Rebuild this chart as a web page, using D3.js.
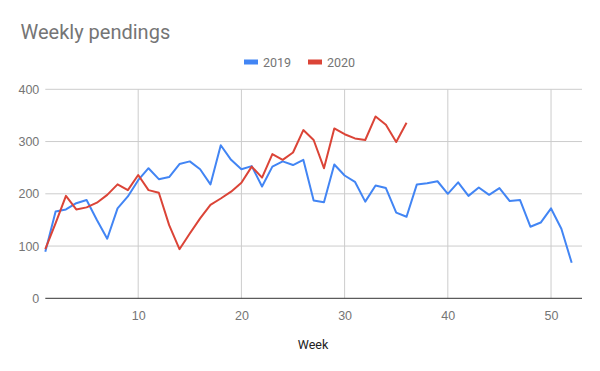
<!DOCTYPE html>
<html>
<head>
<meta charset="utf-8">
<script src="https://cdn.jsdelivr.net/npm/d3@7"></script>
<style>
  body { margin: 0; background: #fff; }
  svg { display: block; font-family: Roboto, Arial, sans-serif; }
</style>
</head>
<body>
<svg id="chart" width="600" height="371"></svg>
<script>
// data
const weeks2019 = d3.range(1, 53);
const values2019 = [89, 166, 170, 182, 188, 150, 114, 172, 195, 226,
                    249, 228, 232, 257, 262, 247, 218, 293, 265, 247,
                    253, 214, 252, 262, 255, 265, 187, 184, 256, 235,
                    223, 185, 216, 211, 164, 156, 218, 220, 224, 200,
                    222, 196, 212, 198, 211, 186, 188, 137, 145, 172,
                    133, 68];
const weeks2020 = d3.range(1, 37);
const values2020 = [94, 144, 196, 170, 174, 183, 198, 218, 207, 236,
                    207, 202, 140, 94, 124, 153, 179, 191, 204, 221,
                    252, 231, 276, 265, 279, 322, 303, 249, 325, 314,
                    306, 303, 348, 332, 299, 336];
const seriesNames = ['2019', '2020'];
const seriesColors = ['#4285f4', '#db4437'];
const xTicks = [10, 20, 30, 40, 50];
const yTicks = [0, 100, 200, 300, 400];

const svg = d3.select('#chart');
const plotLeft = 45.3, plotRight = 582, plotTop = 89.3, plotBottom = 298.3;

const x = d3.scaleLinear().domain([1, 53]).range([plotLeft, plotRight]);
const y = d3.scaleLinear().domain([0, 400]).range([plotBottom, plotTop]);

//title
svg.append('text')
  .attr('x', 20.5)
  .attr('y', 38.5)
  .attr('fill', '#757575')
  .style('font-size', '20px')
  .text('Weekly pendings');

//gridlines
const grid = svg.append('g');
grid.selectAll('.hgrid')
  .data(yTicks.filter(d => d > 0))
  .join('line')
    .attr('x1', plotLeft).attr('x2', plotRight)
    .attr('y1', d => y(d)).attr('y2', d => y(d))
    .attr('stroke', '#cccccc').attr('stroke-width', 1);
grid.selectAll('.vgrid')
  .data(xTicks)
  .join('line')
    .attr('x1', d => x(d)).attr('x2', d => x(d))
    .attr('y1', plotTop).attr('y2', plotBottom)
    .attr('stroke', '#cccccc').attr('stroke-width', 1);

//axes
const yAxis = d3.axisLeft(y).tickValues(yTicks).tickSize(0).tickPadding(6);
svg.append('g')
  .attr('transform', 'translate(' + plotLeft + ',0)')
  .call(yAxis)
  .call(g => g.select('.domain').remove())
  .call(g => g.selectAll('text').attr('fill', '#757575').style('font-size', '12.5px').attr('x', -6));

const xAxis = d3.axisBottom(x).tickValues(xTicks).tickSize(0).tickPadding(13);
svg.append('g')
  .attr('transform', 'translate(0,' + plotBottom + ')')
  .call(xAxis)
  .call(g => g.select('.domain').remove())
  .call(g => g.selectAll('text').attr('fill', '#757575').style('font-size', '12.5px'));

svg.append('line')
  .attr('x1', plotLeft).attr('x2', plotRight)
  .attr('y1', y(0)).attr('y2', y(0))
  .attr('stroke', '#333333').attr('stroke-width', 1);

svg.append('text')
  .attr('x', 313)
  .attr('y', 349)
  .attr('text-anchor', 'middle')
  .attr('fill', '#222222')
  .style('font-size', '12.5px')
  .text('Week');

//lines
const line = d3.line()
  .x(d => x(d[0]))
  .y(d => y(d[1]));

const series = [
  d3.zip(weeks2019, values2019),
  d3.zip(weeks2020, values2020)
];

series.forEach((s, i) => {
  svg.append('path')
    .datum(s)
    .attr('fill', 'none')
    .attr('stroke', seriesColors[i])
    .attr('stroke-width', 2)
    .attr('stroke-linejoin', 'round')
    .attr('d', line);
});

//legend
const legendX = [244, 308];
const legend = svg.append('g');
seriesNames.forEach((name, i) => {
  legend.append('rect')
    .attr('x', legendX[i]).attr('y', 59.5)
    .attr('width', 14).attr('height', 5)
    .attr('fill', seriesColors[i]);
  legend.append('text')
    .attr('x', legendX[i] + 19).attr('y', 66.5)
    .attr('fill', '#757575')
    .style('font-size', '12.5px')
    .text(name);
});
</script>
</body>
</html>
